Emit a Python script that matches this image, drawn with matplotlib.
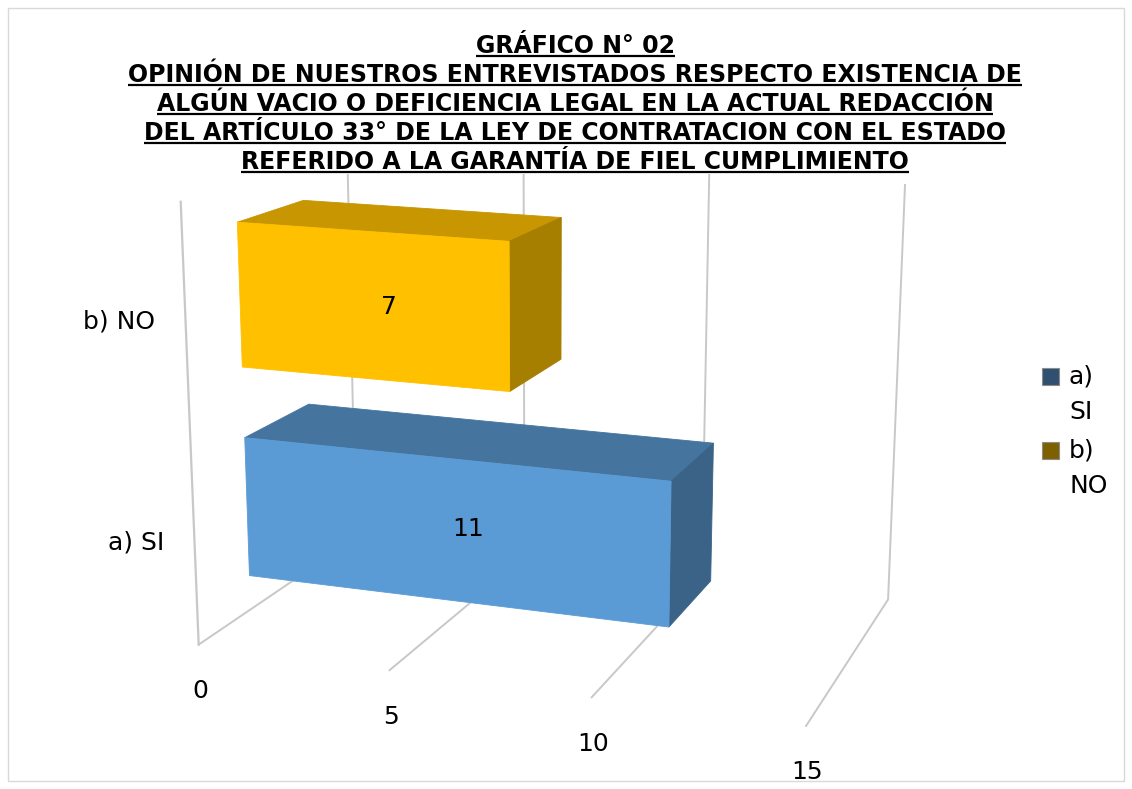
import numpy as np
import matplotlib
matplotlib.use("Agg")
import matplotlib.pyplot as plt
from matplotlib.patches import Polygon, Rectangle

# ---------------- data ----------------
categories = ["a) SI", "b) NO"]
values = [11, 7]
value_ticks = [0, 5, 10, 15]
legend_labels = ["a)\nSI", "b)\nNO"]
title_lines = [
    "GRÁFICO N° 02",
    "OPINIÓN DE NUESTROS ENTREVISTADOS RESPECTO EXISTENCIA DE",
    "ALGÚN VACIO O DEFICIENCIA LEGAL EN LA ACTUAL REDACCIÓN",
    "DEL ARTÍCULO 33° DE LA LEY DE CONTRATACION CON EL ESTADO",
    "REFERIDO A LA GARANTÍA DE FIEL CUMPLIMIENTO",
]

# ---------------- style ----------------
W, H, DPI = 1132, 789, 100
front_cols = ["#5B9BD5", "#FFC000"]
top_cols = ["#45759F", "#C79600"]
side_cols = ["#3A6387", "#A67F00"]
legend_cols = ["#2F5070", "#7F6000"]
grid_col = "#C8C8C8"
gap_width = 0.5     # between categories
gap_depth = 1.5     # depth gap
vmax = value_ticks[-1]

# ---------------- perspective camera (3D chart box -> page pixels) ----------------
# box corners: (value fraction, depth 0 front..1 back, height 0 floor..1 top)
calib_world = [(0, 0, 0), (1/3, 0, 0), (2/3, 0, 0), (1, 0, 0),
               (0, 1, 0), (1/3, 1, 0), (2/3, 1, 0), (1, 1, 0),
               (0, 0, 1), (1, 1, 1)]
calib_page = [(199.3, 645), (389, 670), (591, 697.3), (806.7, 725.7),
              (355.5, 538), (524, 557.6), (703, 577.5), (887.3, 600),
              (180.7, 201.7), (905, 185)]


def fit_camera(world, page):
    Wp = np.asarray(world, float)
    U = np.asarray(page, float)
    mu = U.mean(0)
    s = U.std()
    Un = (U - mu) / s
    rows = []
    for (X, Y, Z), (u, v) in zip(Wp, Un):
        rows.append([X, Y, Z, 1, 0, 0, 0, 0, -u * X, -u * Y, -u * Z, -u])
        rows.append([0, 0, 0, 0, X, Y, Z, 1, -v * X, -v * Y, -v * Z, -v])
    _, _, Vt = np.linalg.svd(np.array(rows))
    P = Vt[-1].reshape(3, 4)
    T = np.array([[s, 0, mu[0]], [0, s, mu[1]], [0, 0, 1]])
    return T @ P


CAM = fit_camera(calib_world, calib_page)


def proj(v, d, h):
    p = CAM @ np.array([v / vmax, d, h, 1.0])
    return p[0] / p[2], p[1] / p[2]


# ---------------- figure ----------------
fig = plt.figure(figsize=(W / DPI, H / DPI), dpi=DPI)
ax = fig.add_axes([0, 0, 1, 1])
ax.set_xlim(0, W)
ax.set_ylim(H, 0)
ax.axis("off")

FONT = "DejaVu Sans"

# gridlines on floor and back wall
for t in value_ticks:
    a, b, c = proj(t, 0, 0), proj(t, 1, 0), proj(t, 1, 1)
    ax.plot([a[0], b[0], c[0]], [a[1], b[1], c[1]], color=grid_col, lw=1.4,
            solid_joinstyle="miter", zorder=1)
    ax.text(a[0] + 1.5, a[1] + 46.5, str(t), ha="center", va="center",
            fontsize=18, family=FONT, color="black", zorder=5)
# vertical (category) axis line at the front
a, b = proj(0, 0, 0), proj(0, 0, 1)
ax.plot([a[0], b[0]], [a[1], b[1]], color=grid_col, lw=1.6, zorder=1)

# bars
ncat = len(categories)
band = 1.0 / ncat
half = band / (1 + gap_width) / 2
y0 = 0.5 - 0.5 / (1 + gap_depth)
y1 = 0.5 + 0.5 / (1 + gap_depth)
for i, (cat, val) in enumerate(zip(categories, values)):
    zc = (i + 0.5) * band
    z0, z1 = zc - half, zc + half
    front = [proj(0, y0, z0), proj(val, y0, z0), proj(val, y0, z1), proj(0, y0, z1)]
    top = [proj(0, y0, z1), proj(val, y0, z1), proj(val, y1, z1), proj(0, y1, z1)]
    side = [proj(val, y0, z0), proj(val, y1, z0), proj(val, y1, z1), proj(val, y0, z1)]
    for poly, col in ((top, top_cols[i]), (side, side_cols[i]), (front, front_cols[i])):
        ax.add_patch(Polygon(poly, closed=True, facecolor=col, edgecolor=col,
                             lw=0.6, zorder=3))
    # data label
    lx, ly = proj(val / 2, 0.38, zc)
    ax.text(lx + 5, ly + 7, str(val), ha="center", va="center", fontsize=18,
            family=FONT, color="black", zorder=6)
    # category label
    cx, cy = proj(0, 0, zc)
    ax.text(cx - 30, cy + 4.5, cat, ha="right", va="center", fontsize=18,
            family=FONT, color="black", zorder=6)

# legend (manual, wrapped labels)
leg_x, leg_y0, leg_step, sq = 1042, 376, 74, 17
for i, lab in enumerate(legend_labels):
    yy = leg_y0 + i * leg_step
    ax.add_patch(Rectangle((leg_x, yy - sq / 2), sq, sq, facecolor=legend_cols[i],
                           edgecolor="#8C8C8C", lw=0.8, zorder=6))
    ax.text(leg_x + 27, yy - 12, lab, ha="left", va="top", fontsize=18,
            family=FONT, linespacing=1.62, color="black", zorder=6)

# title (bold, underlined) with white box behind
title_x = 575
base_y = [53, 82, 111, 140, 169]
tobjs = []
for line, by in zip(title_lines, base_y):
    tobjs.append(ax.text(title_x, by, line, ha="center", va="baseline",
                         fontsize=17, fontweight="bold", family=FONT,
                         color="black", zorder=8))
fig.canvas.draw()
r = fig.canvas.get_renderer()
inv = ax.transData.inverted()
xs0, xs1 = [], []
for tobj, by in zip(tobjs, base_y):
    bb = tobj.get_window_extent(r)
    (x0, _), (x1, _) = inv.transform([[bb.x0, bb.y0], [bb.x1, bb.y1]])
    xs0.append(x0)
    xs1.append(x1)
    ax.plot([x0, x1], [by + 3, by + 3], color="black", lw=1.6, zorder=8,
            solid_capstyle="butt")
ax.add_patch(Rectangle((min(xs0) - 4, 22), max(xs1) - min(xs0) + 8, 152,
                       facecolor="white", edgecolor="none", zorder=7))

# chart area border
ax.add_patch(Rectangle((8, 8), W - 16, H - 16, facecolor="none",
                       edgecolor="#D9D9D9", lw=1.0, zorder=0))

fig.savefig("out.png", dpi=DPI)
